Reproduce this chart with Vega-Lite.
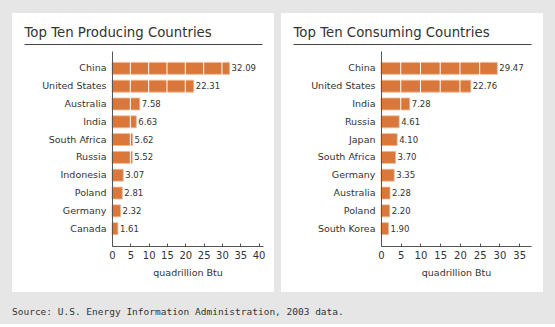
{
  "$schema": "https://vega.github.io/schema/vega-lite/v6.json",
  "background": "#e6e6e6",
  "padding": {"left": 12, "top": 12, "right": 12, "bottom": 8},
  "spacing": 7,
  "title": {"text": "Source: U.S. Energy Information Administration, 2003 data.", "orient": "bottom", "anchor": "start", "fontSize": 9.5, "fontWeight": "normal", "color": "#333333", "offset": 14, "baseline": "top", "font": "DejaVu Sans Mono"},
  "config": {"view": {"stroke": null, "fill": "white"}, "font": "DejaVu Sans"},
  "hconcat": [
    {
      "width": 262, "height": 279,
      "data": {"values": [
        {"country": "China", "value": 32.09},
        {"country": "United States", "value": 22.31},
        {"country": "Australia", "value": 7.58},
        {"country": "India", "value": 6.63},
        {"country": "South Africa", "value": 5.62},
        {"country": "Russia", "value": 5.52},
        {"country": "Indonesia", "value": 3.07},
        {"country": "Poland", "value": 2.81},
        {"country": "Germany", "value": 2.32},
        {"country": "Canada", "value": 1.61}
      ]},
      "resolve": {"scale": {"x": "independent"}, "axis": {"x": "independent"}},
      "layer": [
        {
          "layer": [
            {
              "mark": {"type": "bar", "color": "#d9783a", "stroke": "#f0b890", "strokeWidth": 0.8},
              "encoding": {
                "y": {"field": "country", "type": "nominal", "sort": null,
                  "scale": {"range": [38, 233], "paddingInner": 0.33, "paddingOuter": 0.64},
                  "axis": {"orient": "left", "offset": -100, "ticks": false, "labelPadding": 6, "labelFontSize": 9.5, "labelColor": "#333333", "domainColor": "#555555", "title": null, "zindex": 1}},
                "x": {"field": "value", "type": "quantitative",
                  "scale": {"domain": [0, 41.2], "range": [100, 251], "nice": false, "zero": true},
                  "axis": {"orient": "bottom", "offset": -46, "values": [0, 5, 10, 15, 20, 25, 30, 35, 40], "labelOverlap": false, "labelFlush": false, "grid": false, "tickSize": -3, "tickColor": "#555555", "domainColor": "#555555", "labelPadding": 7, "labelFontSize": 10, "labelColor": "#333333", "title": "quadrillion Btu", "titleFontSize": 9.5, "titleFontWeight": "normal", "titleColor": "#333333", "titlePadding": 7, "zindex": 1}}
              }
            },
            {
              "data": {"values": [{"g": 5}, {"g": 10}, {"g": 15}, {"g": 20}, {"g": 25}, {"g": 30}, {"g": 35}, {"g": 40}]},
              "mark": {"type": "rule", "color": "white", "strokeWidth": 1},
              "encoding": {"x": {"field": "g", "type": "quantitative",
                  "axis": {"orient": "bottom", "offset": -46, "values": [0, 5, 10, 15, 20, 25, 30, 35, 40], "labelOverlap": false, "labelFlush": false, "grid": false, "tickSize": -3, "tickColor": "#555555", "domainColor": "#555555", "labelPadding": 7, "labelFontSize": 10, "labelColor": "#333333", "title": "quadrillion Btu", "titleFontSize": 9.5, "titleFontWeight": "normal", "titleColor": "#333333", "titlePadding": 7, "zindex": 1}}}
            },
            {
              "mark": {"type": "text", "align": "left", "baseline": "middle", "dx": 2, "fontSize": 8.5, "color": "#333333"},
              "encoding": {
                "y": {"field": "country", "type": "nominal", "sort": null},
                "x": {"field": "value", "type": "quantitative",
                  "axis": {"orient": "bottom", "offset": -46, "values": [0, 5, 10, 15, 20, 25, 30, 35, 40], "labelOverlap": false, "labelFlush": false, "grid": false, "tickSize": -3, "tickColor": "#555555", "domainColor": "#555555", "labelPadding": 7, "labelFontSize": 10, "labelColor": "#333333", "title": "quadrillion Btu", "titleFontSize": 9.5, "titleFontWeight": "normal", "titleColor": "#333333", "titlePadding": 7, "zindex": 1}},
                "text": {"field": "value", "type": "quantitative", "format": ".2f"}
              }
            }
          ]
        },
        {
          "mark": {"type": "rule", "opacity": 0},
          "encoding": {
            "x": {"datum": 0, "type": "quantitative",
              "scale": {"domain": [0, 1], "range": [12, 250], "nice": false},
              "axis": {"orient": "top", "offset": -31, "labels": false, "ticks": false, "grid": false, "domainColor": "#444444", "title": "Top Ten Producing Countries", "titleAnchor": "start", "titleAlign": "left", "titleFontSize": 13.3, "titleFontWeight": "normal", "titleColor": "#333333", "titlePadding": 5, "zindex": 1}}
          }
        }
      ]
    },
    {
      "width": 262, "height": 279,
      "data": {"values": [
        {"country": "China", "value": 29.47},
        {"country": "United States", "value": 22.76},
        {"country": "India", "value": 7.28},
        {"country": "Russia", "value": 4.61},
        {"country": "Japan", "value": 4.10},
        {"country": "South Africa", "value": 3.70},
        {"country": "Germany", "value": 3.35},
        {"country": "Australia", "value": 2.28},
        {"country": "Poland", "value": 2.20},
        {"country": "South Korea", "value": 1.90}
      ]},
      "resolve": {"scale": {"x": "independent"}, "axis": {"x": "independent"}},
      "layer": [
        {
          "layer": [
            {
              "mark": {"type": "bar", "color": "#d9783a", "stroke": "#f0b890", "strokeWidth": 0.8},
              "encoding": {
                "y": {"field": "country", "type": "nominal", "sort": null,
                  "scale": {"range": [38, 233], "paddingInner": 0.33, "paddingOuter": 0.64},
                  "axis": {"orient": "left", "offset": -100, "ticks": false, "labelPadding": 6, "labelFontSize": 9.5, "labelColor": "#333333", "domainColor": "#555555", "title": null, "zindex": 1}},
                "x": {"field": "value", "type": "quantitative",
                  "scale": {"domain": [0, 38], "range": [100, 250], "nice": false, "zero": true},
                  "axis": {"orient": "bottom", "offset": -46, "values": [0, 5, 10, 15, 20, 25, 30, 35], "labelOverlap": false, "labelFlush": false, "grid": false, "tickSize": -3, "tickColor": "#555555", "domainColor": "#555555", "labelPadding": 7, "labelFontSize": 10, "labelColor": "#333333", "title": "quadrillion Btu", "titleFontSize": 9.5, "titleFontWeight": "normal", "titleColor": "#333333", "titlePadding": 7, "zindex": 1}}
              }
            },
            {
              "data": {"values": [{"g": 5}, {"g": 10}, {"g": 15}, {"g": 20}, {"g": 25}, {"g": 30}, {"g": 35}]},
              "mark": {"type": "rule", "color": "white", "strokeWidth": 1},
              "encoding": {"x": {"field": "g", "type": "quantitative",
                  "axis": {"orient": "bottom", "offset": -46, "values": [0, 5, 10, 15, 20, 25, 30, 35], "labelOverlap": false, "labelFlush": false, "grid": false, "tickSize": -3, "tickColor": "#555555", "domainColor": "#555555", "labelPadding": 7, "labelFontSize": 10, "labelColor": "#333333", "title": "quadrillion Btu", "titleFontSize": 9.5, "titleFontWeight": "normal", "titleColor": "#333333", "titlePadding": 7, "zindex": 1}}}
            },
            {
              "mark": {"type": "text", "align": "left", "baseline": "middle", "dx": 2, "fontSize": 8.5, "color": "#333333"},
              "encoding": {
                "y": {"field": "country", "type": "nominal", "sort": null},
                "x": {"field": "value", "type": "quantitative",
                  "axis": {"orient": "bottom", "offset": -46, "values": [0, 5, 10, 15, 20, 25, 30, 35], "labelOverlap": false, "labelFlush": false, "grid": false, "tickSize": -3, "tickColor": "#555555", "domainColor": "#555555", "labelPadding": 7, "labelFontSize": 10, "labelColor": "#333333", "title": "quadrillion Btu", "titleFontSize": 9.5, "titleFontWeight": "normal", "titleColor": "#333333", "titlePadding": 7, "zindex": 1}},
                "text": {"field": "value", "type": "quantitative", "format": ".2f"}
              }
            }
          ]
        },
        {
          "mark": {"type": "rule", "opacity": 0},
          "encoding": {
            "x": {"datum": 0, "type": "quantitative",
              "scale": {"domain": [0, 1], "range": [12, 250], "nice": false},
              "axis": {"orient": "top", "offset": -31, "labels": false, "ticks": false, "grid": false, "domainColor": "#444444", "title": "Top Ten Consuming Countries", "titleAnchor": "start", "titleAlign": "left", "titleFontSize": 13.3, "titleFontWeight": "normal", "titleColor": "#333333", "titlePadding": 5, "zindex": 1}}
          }
        }
      ]
    }
  ]
}
